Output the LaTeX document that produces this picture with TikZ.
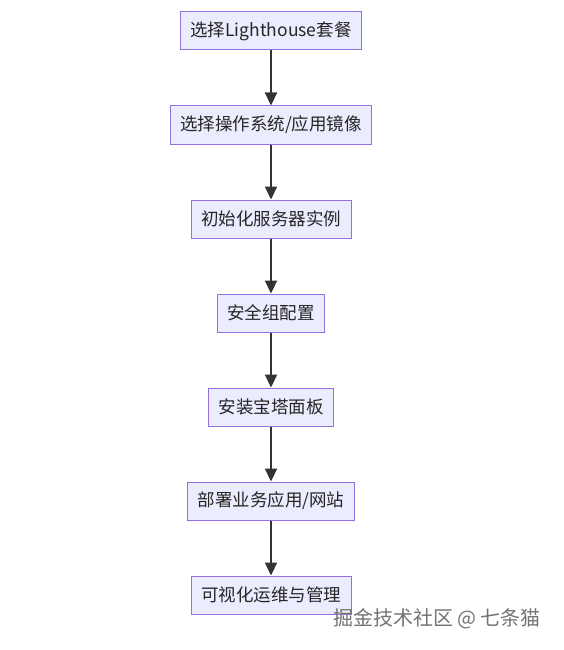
\documentclass[tikz,border=0pt]{standalone}
\usepackage{fontspec}
\setmainfont{Noto Sans CJK SC}
\usetikzlibrary{positioning,arrows.meta}
\definecolor{boxfill}{HTML}{ECECFF}
\definecolor{boxline}{HTML}{9370DB}
\definecolor{arrowcol}{HTML}{333333}
\tikzset{
	stepbox/.style={draw=boxline,fill=boxfill,line width=1pt,minimum height=38pt,inner xsep=10pt,inner ysep=0pt,font=\fontsize{17.5}{20}\selectfont,text=black!85},
	flow/.style={draw=arrowcol,line width=2.2pt,-{Triangle[length=13pt,width=12pt]}}
}
\begin{document}
\begin{tikzpicture}[x=1pt,y=-1pt,node distance=55pt]
		\useasboundingbox[fill=white] (0,0) rectangle (564,650);
		
		\node[stepbox] (plan) at (271,31) {选择Lighthouse套餐}; %top box
		\node[stepbox,below=of plan] (image) {选择操作系统/应用镜像};
		\node[stepbox,below=of image] (init) {初始化服务器实例};
		\node[stepbox,below=of init] (secgroup) {安全组配置};
		\node[stepbox,below=of secgroup] (panel) {安装宝塔面板};
		\node[stepbox,below=of panel] (deploy) {部署业务应用/网站};
		\node[stepbox,below=of deploy] (manage) {可视化运维与管理}; %bottom box
		
		% arrows between the steps
		\draw[flow] (plan) -- (image);
		\draw[flow] (image) -- (init);
		\draw[flow] (init) -- (secgroup);
		\draw[flow] (secgroup) -- (panel);
		\draw[flow] (panel) -- (deploy);
		\draw[flow] (deploy) -- (manage);
		
		\node[text=black!55,font=\fontsize{20}{23}\selectfont] (mark) at (437,619) {掘金技术社区 @ 七条猫}; % watermark
\end{tikzpicture}
\end{document}
